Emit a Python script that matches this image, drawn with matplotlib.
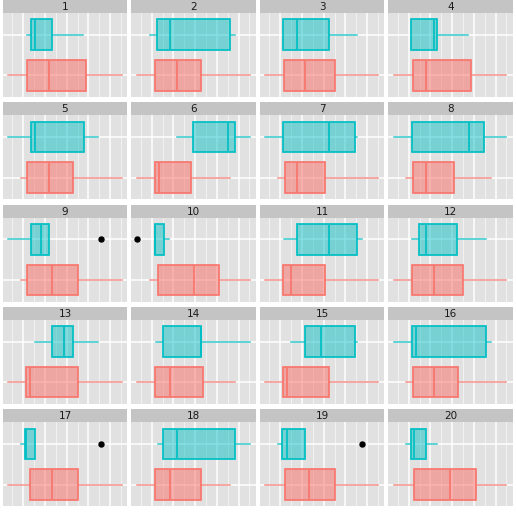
import matplotlib
matplotlib.use("Agg")
import matplotlib.pyplot as plt

panels = [str(i) for i in range(1, 21)]

# teal group (top row of each panel)
teal_lo  = [1.15, 0.92, 1.14, 1.11, 0.31, 2.18, 0.31, 0.31, 0.31, 1.15, 1.15, 1.14, 1.55, 1.20, 1.51, 0.31, 0.91, 1.28, 0.88, 0.89]
teal_q1  = [1.34, 1.26, 1.14, 1.11, 1.34, 2.92, 1.12, 1.14, 1.34, 1.15, 1.77, 1.49, 2.34, 1.53, 2.14, 1.14, 1.08, 1.52, 1.08, 1.11]
teal_med = [1.52, 1.82, 1.77, 2.17, 1.52, 4.49, 3.25, 3.77, 1.80, 1.16, 3.25, 1.78, 2.89, 3.29, 2.86, 1.32, 1.14, 2.17, 1.29, 1.25]
teal_q3  = [2.34, 4.62, 3.25, 2.32, 3.78, 4.82, 4.43, 4.45, 2.18, 1.55, 4.55, 3.22, 3.28, 3.29, 4.43, 4.55, 1.55, 4.82, 2.15, 1.78]
teal_hi  = [3.77, 4.82, 4.55, 3.74, 4.46, 5.54, 4.55, 5.49, 2.18, 1.81, 4.77, 4.57, 4.46, 5.54, 4.55, 4.78, 1.55, 5.54, 2.15, 2.31]
teal_out = [[], [], [], [], [], [], [], [], [4.58], [0.31], [], [], [], [], [], [], [4.58], [], [4.77], []]

# red group (bottom row of each panel)
red_lo  = [0.31, 0.32, 0.31, 0.31, 0.89, 0.32, 0.88, 0.89, 0.89, 0.92, 0.31, 0.31, 0.31, 0.32, 0.31, 0.89, 0.31, 0.32, 0.31, 0.31]
red_q1  = [1.15, 1.17, 1.17, 1.18, 1.15, 1.14, 1.20, 1.18, 1.15, 1.29, 1.11, 1.14, 1.14, 1.15, 1.11, 1.18, 1.29, 1.14, 1.20, 1.22]
red_med = [2.18, 2.17, 2.14, 1.78, 2.18, 1.32, 1.77, 1.78, 2.34, 2.94, 1.49, 2.15, 1.32, 1.83, 1.29, 2.15, 2.34, 1.83, 2.31, 2.89]
red_q3  = [3.88, 3.29, 3.51, 3.86, 3.28, 2.82, 3.05, 3.08, 3.54, 4.12, 3.05, 3.51, 3.54, 3.35, 3.23, 3.25, 3.54, 3.29, 3.51, 4.11]
red_hi  = [5.54, 5.54, 5.51, 5.49, 5.54, 4.60, 5.51, 4.80, 5.54, 5.54, 5.51, 5.49, 5.54, 4.83, 5.51, 5.49, 5.54, 4.60, 5.51, 5.49]

RED = "#F8766D"
TEAL = "#00BFC4"
PANEL_BG = "#E1E1E1"
STRIP_BG = "#C4C4C4"

W, H = 516, 512
fig = plt.figure(figsize=(W / 100, H / 100), dpi=100)
fig.patch.set_facecolor("white")

ncol = 4
left0 = 2.7
col_pitch = 128.5
pw = 124.6
top0 = 0.0
row_pitch = 102.3
sh = 13.0
ph = 84.0

for i in range(20):
    r, c = divmod(i, ncol)
    x0 = left0 + c * col_pitch
    ys = top0 + r * row_pitch
    yp = ys + sh
    ax = fig.add_axes([x0 / W, 1 - (yp + ph) / H, pw / W, ph / H])
    sax = fig.add_axes([x0 / W, 1 - (ys + sh) / H, pw / W, sh / H])
    sax.set_facecolor(STRIP_BG)
    sax.set_xticks([]); sax.set_yticks([])
    for s in sax.spines.values():
        s.set_visible(False)
    sax.text(0.5, 0.45, panels[i], ha="center", va="center", fontsize=7.5,
             color="#1A1A1A", transform=sax.transAxes)

    ax.set_facecolor(PANEL_BG)
    for v in [0.5, 1.5, 2.5, 3.5, 4.5, 5.5]:
        ax.axvline(v, color="white", lw=0.55, zorder=0.5, alpha=0.7)
    for v in [1, 2, 3, 4, 5]:
        ax.axvline(v, color="white", lw=1.1, zorder=0.6)
    for v in [1, 2]:
        ax.axhline(v, color="white", lw=1.1, zorder=0.6)

    groups = [
        (1, RED, 0.55, dict(whislo=red_lo[i], q1=red_q1[i], med=red_med[i], q3=red_q3[i],
                            whishi=red_hi[i], fliers=[])),
        (2, TEAL, 0.47, dict(whislo=teal_lo[i], q1=teal_q1[i], med=teal_med[i], q3=teal_q3[i],
                             whishi=teal_hi[i], fliers=teal_out[i])),
    ]
    for pos, col, a, st in groups:
        ax.bxp([st], positions=[pos], widths=0.75, orientation="horizontal",
               patch_artist=True, showcaps=False, showfliers=True,
               boxprops=dict(facecolor=matplotlib.colors.to_rgba(col, a),
                             edgecolor=col, linewidth=1.25),
               medianprops=dict(color=col, linewidth=1.25),
               whiskerprops=dict(color=col, linewidth=1.1, alpha=0.8),
               flierprops=dict(marker="o", markerfacecolor="black",
                               markeredgecolor="black", markersize=3.6),
               zorder=2)
    ax.set_xlim(0.051, 5.793)
    ax.set_ylim(0.466, 2.534)
    ax.set_xticks([]); ax.set_yticks([])
    for s in ax.spines.values():
        s.set_visible(False)

fig.savefig("out.png", dpi=100, facecolor="white")
